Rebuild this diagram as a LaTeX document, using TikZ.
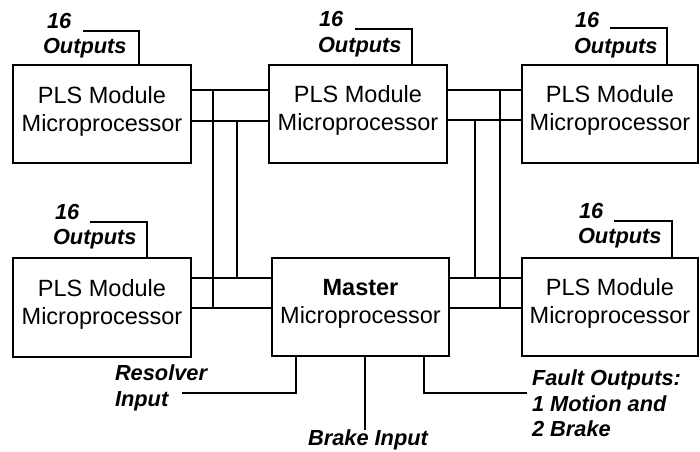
\documentclass[tikz,border=0pt]{standalone}
\usepackage{fontspec}
\setmainfont{Liberation Sans}
\begin{document}
\begin{tikzpicture}[x=1pt,y=-1pt,line width=2pt,
  box/.style={draw,rectangle,minimum width=178pt,minimum height=98pt,outer sep=0pt,inner sep=0pt},
  btxt/.style={anchor=base,font=\fontsize{23.5}{28}\selectfont,inner sep=0pt},
  lbl/.style={anchor=base west,font=\fontsize{21.8}{25}\selectfont\bfseries\itshape,inner sep=0pt},
  lblc/.style={anchor=base,font=\fontsize{21.8}{25}\selectfont\bfseries\itshape,inner sep=0pt}]
\useasboundingbox (0,0) rectangle (700,451);
% boxes
\node[box] (tl) at (102,114) {};
\node[box] (tm) at (358,113.5) {};
\node[box,minimum width=176pt] (tr) at (610,113.5) {};
\node[box,minimum height=99pt] (bl) at (102,307.5) {};
\node[box,minimum width=177pt] (ms) at (360.5,306.5) {};
\node[box,minimum width=176pt] (br) at (610,306.5) {};
% box texts
\foreach \b in {tl,tm,tr,bl,br}{
  \node[btxt] at ([yshift=-38pt]\b.north) {PLS Module};
  \node[btxt] at ([yshift=-66pt]\b.north) {Microprocessor};
}
\node[btxt] (mt1) at ([yshift=-38pt]ms.north) {\bfseries Master};
\node[btxt] (mt2) at ([yshift=-66pt]ms.north) {Microprocessor};
% left bus
\coordinate (a1) at (213,90);
\coordinate (a2) at (237,121);
\coordinate (a3) at (213,308);
\coordinate (a4) at (237,278);
\draw (tl.east |- a1) -- (tm.west |- a1);
\draw (tl.east |- a2) -- (tm.west |- a2);
\draw (bl.east |- a4) -- (ms.west |- a4);
\draw (bl.east |- a3) -- (ms.west |- a3);
\draw (a1) -- (a3);
\draw (a2) -- (a4);
% right bus
\coordinate (b1) at (500,90);
\coordinate (b2) at (475,120);
\coordinate (b3) at (500,308);
\coordinate (b4) at (475,278);
\draw (tm.east |- b1) -- (tr.west |- b1);
\draw (tm.east |- b2) -- (tr.west |- b2);
\draw (ms.east |- b4) -- (br.west |- b4);
\draw (ms.east |- b3) -- (br.west |- b3);
\draw (b1) -- (b3);
\draw (b2) -- (b4);
% output leads
\coordinate (o1) at (83,31);
\coordinate (o2) at (355,29);
\coordinate (o3) at (610,28);
\coordinate (o4) at (90,222);
\coordinate (o5) at (614,221);
\draw (o1) -| ([xshift=37pt]tl.north);
\draw (o2) -| ([xshift=54pt]tm.north);
\draw (o3) -| ([xshift=57pt]tr.north);
\draw (o4) -| ([xshift=45pt]bl.north);
\draw (o5) -| ([xshift=62pt]br.north);
% master leads
\coordinate (rs) at (182,393);
\coordinate (bk) at (365,430);
\coordinate (ft) at (527,393);
\draw (rs) -| ([xshift=-64.5pt]ms.south);
\draw ([xshift=4.5pt]ms.south) -- (bk);
\draw (ft) -| ([xshift=63.5pt]ms.south);
% labels
\node[lbl] at (46,28) {16};
\node[lbl] at (42,53) {Outputs};
\node[lbl] at (318,26) {16};
\node[lbl] at (317,52) {Outputs};
\node[lbl] at (574,27) {16};
\node[lbl] at (573,53) {Outputs};
\node[lbl] at (54,219) {16};
\node[lbl] at (52,244) {Outputs};
\node[lbl] at (578,218) {16};
\node[lbl] at (577,243) {Outputs};
\node[lbl] at (114,380) {Resolver};
\node[lbl] at (114,406) {Input};
\node[lblc] at (368,445.5) {Brake Input};
\node[lbl] at (531,385) {Fault Outputs:};
\node[lbl] at (531,411) {1 Motion and};
\node[lbl] at (531,436) {2 Brake};
\end{tikzpicture}
\end{document}
